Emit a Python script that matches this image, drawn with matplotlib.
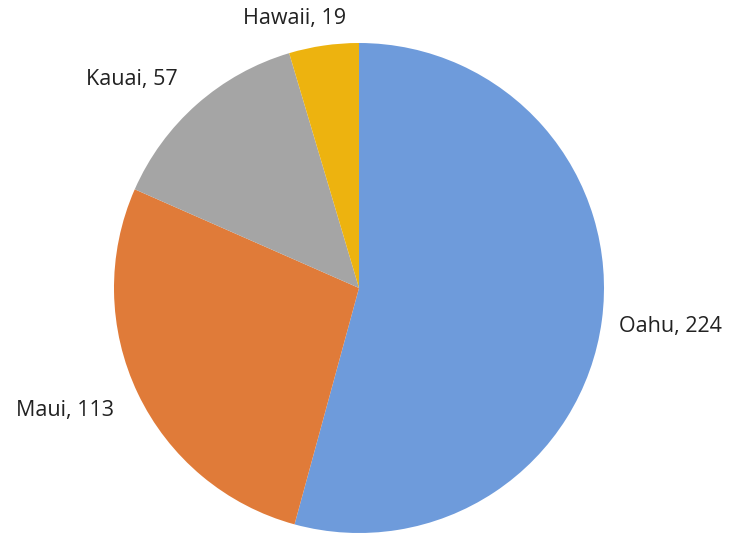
import matplotlib.pyplot as plt
import numpy as np

islands = ["Oahu", "Maui", "Kauai", "Hawaii"]
visitors = [224, 113, 57, 19]
colors = ["#6E9BDB", "#E07B39", "#A5A5A5", "#EDB30F"]

# label placement (degrees from centre, distance in radii) tuned to the reference
label_angle = [-7.0, -157.4, 137.5, 103.5]
label_dist = [1.28, 1.30, 1.26, 1.13]

plt.rcParams["font.family"] = ["Open Sans", "DejaVu Sans"]

fig = plt.figure(figsize=(7.35, 5.4), dpi=100)
ax = fig.add_axes([0, 0, 1, 1])

cx, cy, r = 359, 252, 245
wedges, texts = ax.pie(
    visitors,
    labels=[f"{n}, {v}" for n, v in zip(islands, visitors)],
    colors=colors,
    startangle=90,
    counterclock=False,
    center=(cx, cy),
    radius=r,
    wedgeprops={"linewidth": 0},
    textprops={"fontsize": 15.5, "color": "#222222"},
    frame=True,
)
ax.set_xlim(0, 735)
ax.set_ylim(0, 540)
ax.set_aspect("equal")
ax.axis("off")

for t, a, d in zip(texts, label_angle, label_dist):
    rad = np.deg2rad(a)
    t.set_position((cx + d * r * np.cos(rad), cy + d * r * np.sin(rad)))
    t.set_ha("center")
    t.set_va("center")

fig.savefig("out.png", dpi=100)
